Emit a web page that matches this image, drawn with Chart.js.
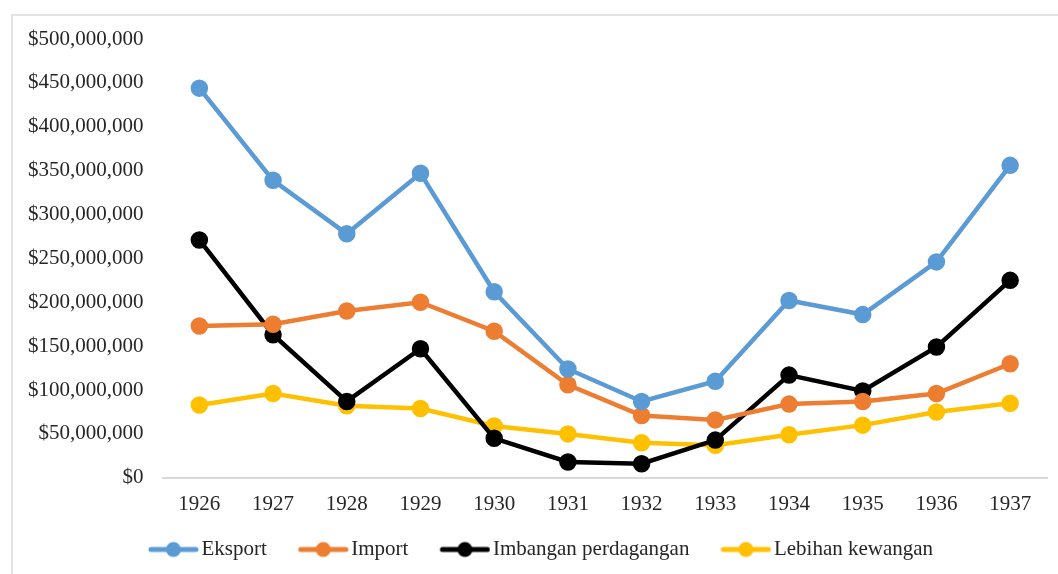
<!DOCTYPE html>
<html>
<head>
<meta charset="utf-8">
<script src="https://cdn.jsdelivr.net/npm/chart.js@4.4.0/dist/chart.umd.min.js"></script>
<style>
  html, body { margin: 0; padding: 0; background: #fff; }
  #frame { position: absolute; left: 11px; top: 14px; width: 1100px; height: 600px; border: 2px solid #e3e3e3; box-sizing: border-box; }
  #wrap { position: absolute; left: 0; top: 0; width: 1058px; height: 574px; }
</style>
</head>
<body>
<div id="frame"></div>
<div id="wrap"><canvas id="tradeChart" width="1058" height="574"></canvas></div>
<script>
var years = ['1926', '1927', '1928', '1929', '1930', '1931', '1932', '1933', '1934', '1935', '1936', '1937'];
var eksport   = [444e6, 339e6, 278e6, 347e6, 212e6, 124e6, 87e6, 110e6, 202e6, 186e6, 246e6, 356e6];
var importVal = [173e6, 175e6, 190e6, 200e6, 167e6, 106e6, 71e6, 66e6, 84e6, 87e6, 96e6, 130e6];
var imbangan  = [271e6, 163e6, 87e6, 147e6, 45e6, 18e6, 16e6, 43e6, 117e6, 99e6, 149e6, 225e6];
var lebihan   = [83e6, 96e6, 82e6, 79e6, 59e6, 50e6, 40e6, 37e6, 49e6, 60e6, 75e6, 85e6];
var seriesNames = ['Eksport', 'Import', 'Imbangan perdagangan', 'Lebihan kewangan'];
var seriesColors = ['#5B9BD5', '#ED7D31', '#000000', '#FFC000'];

// line+dot icons for the legend, like Excel (transparent margin on the left = gap between items)
function legendIcon(color) {
    var c = document.createElement('canvas');
    c.width = 82; c.height = 18;
    var g = c.getContext('2d');
    g.strokeStyle = color;
    g.lineWidth = 5;
    g.lineCap = 'round';
    g.beginPath(); g.moveTo(34, 9); g.lineTo(79, 9); g.stroke();
    g.fillStyle = color;
    g.beginPath(); g.arc(56.5, 9, 7.5, 0, Math.PI * 2); g.fill();
    return c;
}
var icons = seriesColors.map(legendIcon);

function makeSet(i, values) {
    return {
        label: seriesNames[i],
        data: values,
        borderColor: seriesColors[i],
        backgroundColor: seriesColors[i],
        borderWidth: 4.5,
        pointRadius: 6.5,
        pointHoverRadius: 6.5,
        tension: 0
    };
}

var fontFam = "'Liberation Serif', 'Times New Roman', serif";

var ctx = document.getElementById('tradeChart').getContext('2d');
var tradeChart = new Chart(ctx, {
    type: 'line',
    data: {
        labels: years,
        datasets: [makeSet(0, eksport), makeSet(1, importVal), makeSet(2, imbangan), makeSet(3, lebihan)]
    },
    options: {
        responsive: false,
        animation: false,
        layout: { padding: { left: 9, right: 9, top: 39, bottom: 4 } },
        plugins: {
            tooltip: { enabled: false },
            legend: {
                display: true,
                position: 'bottom',
                labels: {
                    usePointStyle: true,
                    pointStyleWidth: 66,
                    padding: 8,
                    color: '#262626',
                    font: { family: fontFam, size: 21 },
                    generateLabels: function(chart) {
                        var items = Chart.defaults.plugins.legend.labels.generateLabels(chart);
                        items.forEach(function(it, i) { it.pointStyle = icons[i]; });
                        return items;
                    }
                }
            }
        },
        scales: {
            x: {
                offset: true,
                grid: { display: false, drawTicks: false },
                border: { display: true, color: '#d9d9d9', width: 2 },
                ticks: { color: '#262626', font: { family: fontFam, size: 21 }, padding: 14, maxRotation: 0 }
            },
            y: {
                min: 0,
                max: 500000000,
                grid: { display: false, drawTicks: false },
                border: { display: false },
                ticks: {
                    stepSize: 50000000,
                    padding: 19,
                    color: '#262626',
                    font: { family: fontFam, size: 21 },
                    callback: function(v) { return '$' + Number(v).toLocaleString('en-US'); }
                }
            }
        }
    }
});
</script>
</body>
</html>
